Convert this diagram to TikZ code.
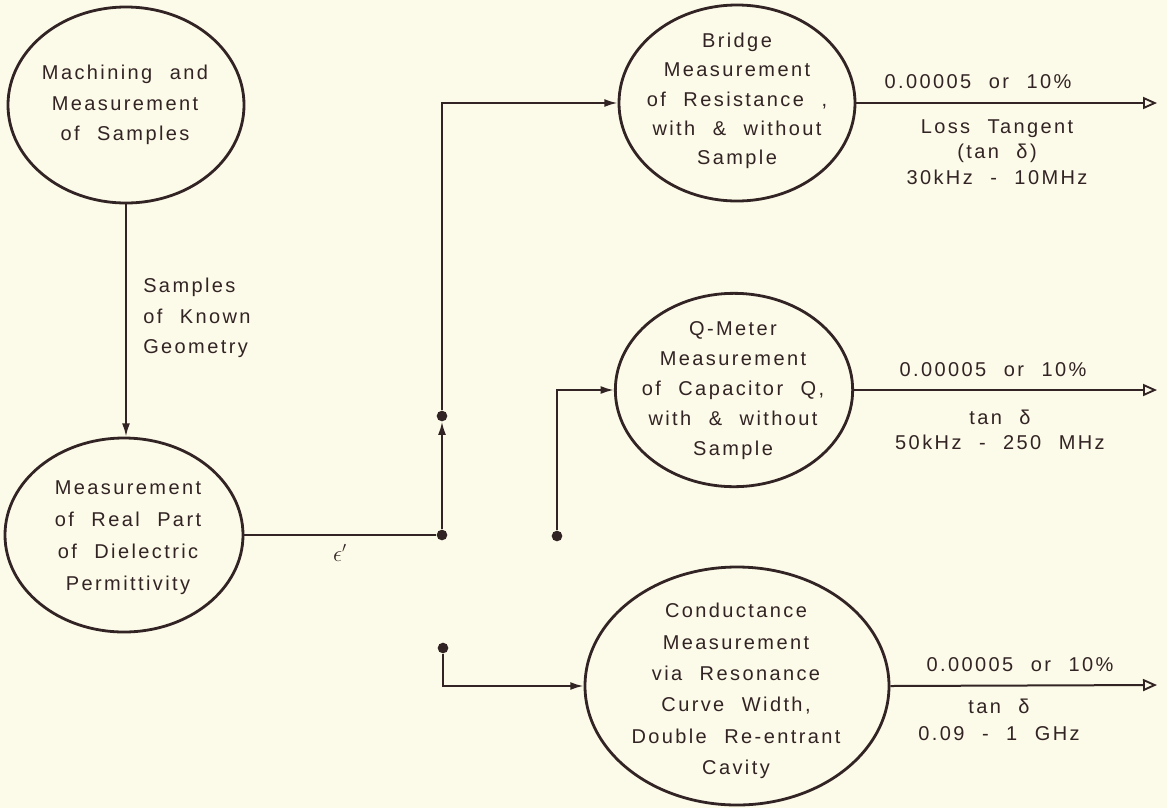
\documentclass[tikz,border=0pt]{standalone}
\usepackage{fontspec}
\setmainfont{Liberation Sans}
\newfontfamily\lf[LetterSpace=12,WordSpace=2.2]{Liberation Sans}
\usetikzlibrary{shapes.geometric,arrows.meta}
\definecolor{bg}{RGB}{252,250,232}
\definecolor{ink}{RGB}{50,36,36}
\begin{document}
\begin{tikzpicture}[x=0.75pt,y=-0.75pt,
  ell/.style={draw=ink,line width=2.1pt,ellipse,inner sep=0pt},
  txt/.style={align=center,text=ink,inner sep=0pt,font=\lf\fontsize{15}{22}\selectfont},
  conn/.style={draw=ink,line width=1.5pt},
  arr/.style={-{Latex[length=10pt,width=6pt]}},
  outarr/.style={-{Triangle[open,length=10.5pt,width=9pt,line width=1.4pt]}},
  dotnode/.style={circle,fill=ink,inner sep=0pt,minimum size=8pt}]
\useasboundingbox (0,0) rectangle (1167,808);
\fill[bg] (0,0) rectangle (1167,808);
% ellipses
\node[ell,minimum width=177pt,minimum height=147pt] (A) at (126,105) {};
\node[ell,minimum width=178.5pt,minimum height=145.5pt] (B) at (124,535) {};
\node[ell,minimum width=177pt,minimum height=147pt] (br) at (737,103) {};
\node[ell,minimum width=178pt,minimum height=145pt] (qm) at (734,390) {};
\node[ell,minimum width=228pt,minimum height=178.5pt] (cd) at (737,686) {};
% texts
\node[txt,font=\lf\fontsize{15}{23}\selectfont] (At) at (125,105) {Machining and\\Measurement\\of Samples};
\node[txt,font=\lf\fontsize{15}{24}\selectfont] (Bt) at (128,538) {Measurement\\of Real Part\\of Dielectric\\Permittivity};
\node[txt] (brt) at (737,101) {Bridge\\Measurement\\of Resistance ,\\with \& without\\Sample};
\node[txt,font=\lf\fontsize{15}{22.5}\selectfont] (qmt) at (733,391) {Q-Meter\\Measurement\\of Capacitor Q,\\with \& without\\Sample};
\node[txt,font=\lf\fontsize{15}{23.5}\selectfont] (cdt) at (736,691) {Conductance\\Measurement\\via Resonance\\Curve Width,\\Double Re-entrant\\Cavity};
\node[txt,align=left,anchor=west,font=\lf\fontsize{15}{23}\selectfont] (geo) at (143,318) {Samples\\of Known\\Geometry};
\node[text=ink,inner sep=0pt,font=\fontsize{16}{16}\selectfont] (eps) at (340,553) {$\epsilon'$};
% dots
\node[dotnode] (d1) at (442,535) {};
\node[dotnode] (d2) at (442,416) {};
\node[dotnode] (d3) at (557,536) {};
\node[dotnode] (d4) at (443,648) {};
% output ends
\coordinate (o1) at (1157,103);
\coordinate (o2) at (1157,390);
\coordinate (o3) at (1157,685);
% connectors
\draw[conn,arr] (A.south) -- (A.south |- B.north);
\draw[conn] (B.east) -- (d1);
\draw[conn,arr] (d1) -- (d2);
\draw[conn,arr] (d2) |- (br.west);
\draw[conn,arr] (d3) |- (qm.west);
\draw[conn,arr] (d4) |- (cd.west);
\draw[conn,outarr] (br.east) -- (o1);
\draw[conn,outarr] (qm.east) -- (o2);
\draw[conn,outarr] (cd.east) -- (o3);
% output labels
\node[txt] (l1a) at (978,82) {0.00005 or 10\%};
\node[txt,font=\lf\fontsize{15}{19}\selectfont] (l1b) at (997,152) {Loss Tangent\\(tan δ)\\30kHz - 10MHz};
\node[txt] (l2a) at (993,370) {0.00005 or 10\%};
\node[txt,font=\lf\fontsize{15}{19}\selectfont] (l2b) at (1000,430) {tan δ\\50kHz - 250 MHz};
\node[txt] (l3a) at (1020,665) {0.00005 or 10\%};
\node[txt,font=\lf\fontsize{15}{20}\selectfont] (l3b) at (999,720) {tan δ\\0.09 - 1 GHz};
\end{tikzpicture}
\end{document}
